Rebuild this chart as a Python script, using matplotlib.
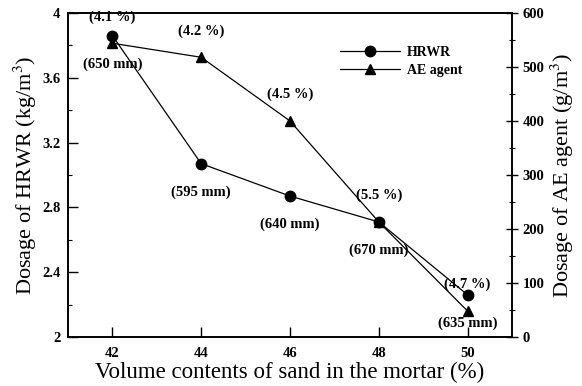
import matplotlib.pyplot as plt
from matplotlib.ticker import MultipleLocator, FormatStrFormatter

# data
sand = [42, 44, 46, 48, 50]
hrwr = [3.86, 3.07, 2.87, 2.71, 2.26]
ae_agent = [544, 518, 400, 213, 48]
air_labels = ['(4.1 %)', '(4.2 %)', '(4.5 %)', '(5.5 %)', '(4.7 %)']
flow_labels = ['(650 mm)', '(595 mm)', '(640 mm)', '(670 mm)', '(635 mm)']

plt.rcParams['font.family'] = ['Liberation Serif', 'DejaVu Serif']
plt.rcParams['mathtext.fontset'] = 'stix'

fig = plt.figure(figsize=(5.82, 3.86), dpi=100)
ax = fig.add_axes([68 / 582, 1 - 337 / 386, (512 - 68) / 582, (337 - 13) / 386])
ax2 = ax.twinx()

l1, = ax.plot(sand, hrwr, color='black', lw=0.9, marker='o', ms=7.5, label='HRWR')
l2, = ax2.plot(sand, ae_agent, color='black', lw=0.9, marker='^', ms=7.5, label='AE agent')

ax.set_xlim(41, 51)
ax.set_ylim(2, 4)
ax2.set_ylim(0, 600)

ax.xaxis.set_major_locator(MultipleLocator(2))
ax.yaxis.set_major_locator(MultipleLocator(0.4))
ax.yaxis.set_minor_locator(MultipleLocator(0.2))
ax.yaxis.set_major_formatter(FormatStrFormatter('%g'))
ax2.yaxis.set_major_locator(MultipleLocator(100))
ax2.yaxis.set_minor_locator(MultipleLocator(50))

for a in (ax, ax2):
    for s in a.spines.values():
        s.set_linewidth(1.2)
ax.tick_params(axis='both', which='major', direction='in', length=7, width=1,
               labelsize=10.5)
ax.tick_params(axis='x', which='major', pad=7.5)
ax.tick_params(axis='y', which='major', pad=5.5)
ax.tick_params(axis='both', which='minor', direction='in', length=3, width=0.8)
ax2.tick_params(axis='y', which='major', direction='inout', length=8, width=1,
                labelsize=10.5)
ax2.tick_params(axis='y', which='minor', direction='inout', length=4, width=0.8)
for lab in ax.get_xticklabels() + ax.get_yticklabels() + ax2.get_yticklabels():
    lab.set_fontweight('bold')

ax.set_xlabel('Volume contents of sand in the mortar (%)', fontsize=16.5, labelpad=1)
ax.set_ylabel('Dosage of HRWR (kg/m$^3$)', fontsize=16, labelpad=2)
ax2.set_ylabel('Dosage of AE agent (g/m$^3$)', fontsize=16, labelpad=3)

# annotations
for xv, yv, t in zip(sand, ae_agent, air_labels):
    ax2.annotate(t, (xv, yv), xytext=(0, 19), textcoords='offset points',
                 ha='center', va='center', fontsize=10.5, fontweight='bold')
for xv, yv, t in zip(sand, hrwr, flow_labels):
    ax.annotate(t, (xv, yv), xytext=(0, -20.5), textcoords='offset points',
                ha='center', va='center', fontsize=10.5, fontweight='bold')

leg = ax.legend([l1, l2], ['HRWR', 'AE agent'], loc='upper left',
                bbox_to_anchor=(0.6, 0.915), frameon=False, fontsize=10,
                handlelength=4.3, handletextpad=0.5, labelspacing=0.35,
                borderaxespad=0)
for t in leg.get_texts():
    t.set_fontweight('bold')

fig.savefig('out.png', dpi=100)
